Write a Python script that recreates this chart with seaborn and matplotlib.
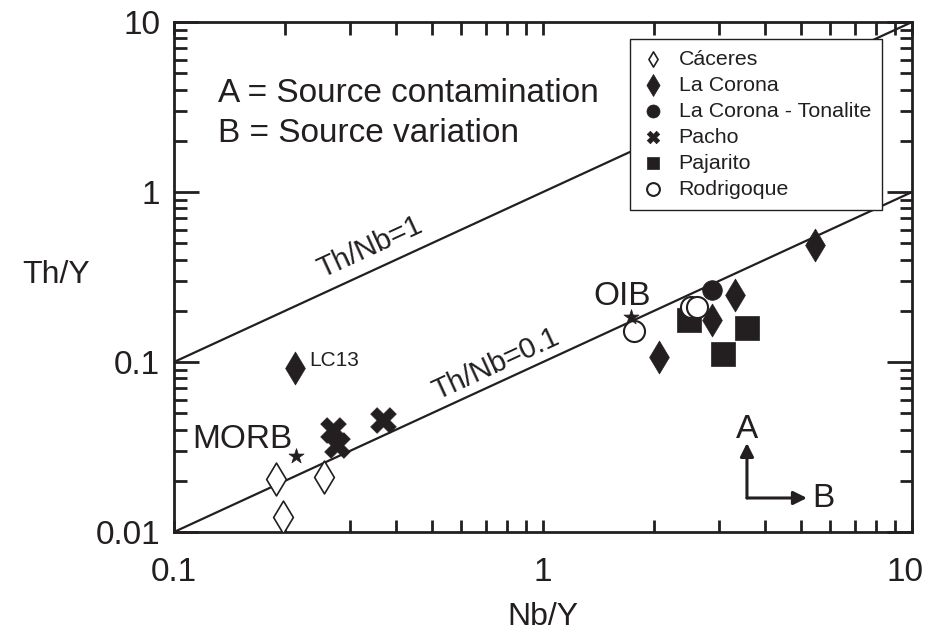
import math
import matplotlib
matplotlib.use('Agg')
import matplotlib.pyplot as plt
from matplotlib.ticker import FixedLocator, FixedFormatter, LogLocator, NullFormatter
from matplotlib.transforms import ScaledTranslation
import seaborn as sns

# Nb/Y and Th/Y
caceres_x = [0.189, 0.197, 0.255]
caceres_y = [0.0205, 0.0123, 0.0211]
corona_x = [0.213, 2.06, 2.87, 3.31, 5.46]
corona_y = [0.0922, 0.107, 0.177, 0.248, 0.488]
tonalite_x = [2.87]
tonalite_y = [0.265]
pacho_x = [0.270, 0.277, 0.368]
pacho_y = [0.0398, 0.0325, 0.0456]
pajarito_x = [2.49, 3.07, 3.57]
pajarito_y = [0.177, 0.111, 0.158]
rodrigoque_x = [1.76, 2.51, 2.61]
rodrigoque_y = [0.152, 0.211, 0.211]

ref_names = ['MORB', 'OIB']
ref_x = [0.214, 1.73]
ref_y = [0.028, 0.184]

th_nb = [1, 0.1]
line_x = [0.1, 10]

x_ticks = [0.1, 1, 10]
x_labels = ['0.1', '1', '10']
y_ticks = [0.01, 0.1, 1, 10]
y_labels = ['0.01', '0.1', '1', '10']

sns.set_theme(style='ticks')
plt.rcParams['font.family'] = ['Liberation Sans', 'DejaVu Sans']
ink = '#231f20'

fig, ax = plt.subplots(figsize=(9.28, 6.31), dpi=100)
fig.subplots_adjust(left=0.1875, right=0.9828, top=0.9651, bottom=0.1569)
ax.set_xscale('log')
ax.set_yscale('log')
ax.set_xlim(0.1, 10)
ax.set_ylim(0.01, 10)

for r in th_nb:
    sns.lineplot(x=line_x, y=[r * v for v in line_x], color=ink, lw=1.6, ax=ax, zorder=2)

# name, x, y, marker, face, size, legend size, edge width
groups = [
    ('Cáceres', caceres_x, caceres_y, 'd', 'white', 280, 60, 1.2),
    ('La Corona', corona_x, corona_y, 'd', ink, 280, 125, 0.5),
    ('La Corona - Tonalite', tonalite_x, tonalite_y, 'o', ink, 200, 88, 0.5),
    ('Pacho', pacho_x, pacho_y, 'X', ink, 340, 80, 0.5),
    ('Pajarito', pajarito_x, pajarito_y, 's', ink, 290, 85, 0.5),
    ('Rodrigoque', rodrigoque_x, rodrigoque_y, 'o', 'white', 230, 85, 1.5),
]
for name, gx, gy, m, face, s, _, lw in groups:
    sns.scatterplot(x=gx, y=gy, marker=m, s=s, color=face, edgecolor=ink,
                    linewidth=lw, label=name, ax=ax, zorder=3)

sns.scatterplot(x=ref_x, y=ref_y, marker='*', s=130, color=ink, edgecolor=ink,
                linewidth=0.5, ax=ax, zorder=4, legend=False)

# reference labels
ax.text(0.112, 0.0312, 'MORB', fontsize=24, color=ink)
ax.text(1.366, 0.216, 'OIB', fontsize=24, color=ink)
ax.text(0.232, 0.0947, 'LC13', fontsize=15, color=ink)

# ratio line labels, rotated along the lines
p0 = ax.transData.transform((0.1, 0.1))
p1 = ax.transData.transform((10, 10))
ang = math.degrees(math.atan2(p1[1] - p0[1], p1[0] - p0[0]))
ax.text(0.252, 0.312, 'Th/Nb=1', fontsize=21, color=ink, rotation=ang,
        rotation_mode='anchor', ha='left', va='baseline')
ax.text(0.516, 0.0598, 'Th/Nb=0.1', fontsize=21, color=ink, rotation=ang,
        rotation_mode='anchor', ha='left', va='baseline')

ax.text(0.0596, 0.843, 'A = Source contamination', transform=ax.transAxes,
        fontsize=24, color=ink, va='baseline')
ax.text(0.0596, 0.765, 'B = Source variation', transform=ax.transAxes,
        fontsize=24, color=ink, va='baseline')

# A / B arrows
arr = dict(arrowstyle='-|>', lw=2.2, color=ink, mutation_scale=20, shrinkA=0, shrinkB=0)
ax.annotate('', xy=(3.57, 0.0334), xytext=(3.57, 0.01585), arrowprops=arr)
ax.annotate('', xy=(5.19, 0.01585), xytext=(3.57, 0.01585), arrowprops=arr)
ax.text(3.57, 0.0357, 'A', fontsize=24, color=ink, ha='center', va='baseline')
ax.text(5.36, 0.01403, 'B', fontsize=24, color=ink, ha='left', va='baseline')

# axes styling
ax.xaxis.set_major_locator(FixedLocator(x_ticks))
ax.xaxis.set_major_formatter(FixedFormatter(x_labels))
ax.yaxis.set_major_locator(FixedLocator(y_ticks))
ax.yaxis.set_major_formatter(FixedFormatter(y_labels))
ax.xaxis.set_minor_locator(LogLocator(base=10, subs=range(2, 10)))
ax.yaxis.set_minor_locator(LogLocator(base=10, subs=range(2, 10)))
ax.xaxis.set_minor_formatter(NullFormatter())
ax.yaxis.set_minor_formatter(NullFormatter())
ax.tick_params(which='both', direction='in', top=True, right=True, width=2,
               color=ink, labelcolor=ink, labelsize=24)
ax.tick_params(axis='y', which='major', length=18, pad=10)
ax.tick_params(axis='y', which='minor', length=9)
ax.tick_params(axis='x', which='both', length=9, pad=18)
for sp in ax.spines.values():
    sp.set_linewidth(2)
    sp.set_color(ink)

# last x label sits a little left of its tick, as in the original
last = ax.get_xticklabels()[-1]
last.set_transform(last.get_transform() + ScaledTranslation(-0.07, 0, fig.dpi_scale_trans))

ax.set_xlabel('Nb/Y', fontsize=23, color=ink)
ax.set_ylabel('Th/Y', fontsize=23, color=ink, rotation=0, ha='center', va='center')
ax.xaxis.set_label_coords(0.5, -0.137)
ax.yaxis.set_label_coords(-0.16, 0.504)

leg = ax.legend(loc='upper right', bbox_to_anchor=(0.959, 0.967), borderaxespad=0,
                fontsize=15.4, frameon=True, fancybox=False, framealpha=1,
                edgecolor=ink, labelspacing=0.33, handlelength=1.2,
                handletextpad=0.6, borderpad=0.5, scatterpoints=1)
leg.get_frame().set_linewidth(1)
leg.set_zorder(5)
for h, g in zip(leg.legend_handles, groups):
    h.set_sizes([g[6]])
for t in leg.get_texts():
    t.set_color(ink)

fig.savefig('out.png', dpi=100)
